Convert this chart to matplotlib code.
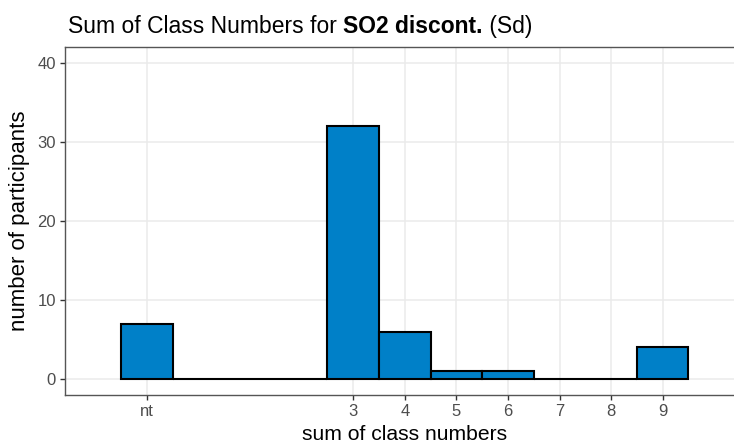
import matplotlib
matplotlib.use("Agg")
import matplotlib.pyplot as plt

plt.rcParams['font.family'] = ['Liberation Sans', 'DejaVu Sans']

# sum of class numbers (nt = not tested, placed left of 0)
positions = [-1, 0, 1, 2, 3, 4, 5, 6, 7, 8, 9]
counts = [7, 0, 0, 0, 32, 6, 1, 1, 0, 0, 4]
tick_pos = [-1, 3, 4, 5, 6, 7, 8, 9]
tick_labels = ["nt", "3", "4", "5", "6", "7", "8", "9"]
y_ticks = [0, 10, 20, 30, 40]

W, H = 734, 443
fig = plt.figure(figsize=(W / 100, H / 100), dpi=100)

# panel runs past the right edge in the original (cropped)
xlim = (-2.59, 10.56)
ylim = (-2, 42)
px_per_x = 51.57
left, top, bottom = 65, 47.2, 394.8
width = (xlim[1] - xlim[0]) * px_per_x
ax = fig.add_axes([left / W, 1 - bottom / H, width / W, (bottom - top) / H])

ax.bar(positions, counts, width=1.0, color="#0080C8", edgecolor="black",
       linewidth=1.5, zorder=3)

ax.set_xlim(*xlim)
ax.set_ylim(*ylim)
ax.set_xticks(tick_pos)
ax.set_xticklabels(tick_labels)
ax.set_yticks(y_ticks)

ax.grid(True, color="#EBEBEB", linewidth=1.1, zorder=0)
ax.set_axisbelow(True)
for s in ax.spines.values():
    s.set_color("#555555")
    s.set_linewidth(1.0)
ax.tick_params(colors="#333333", labelcolor="#4D4D4D", labelsize=12,
               length=3.5, width=1.0, pad=3)

ax.set_xlabel("sum of class numbers", fontsize=15.2, va="baseline")
ax.xaxis.set_label_coords(0.5, (bottom - 440) / (bottom - top))
ax.set_ylabel("number of participants", fontsize=16)
ax.yaxis.set_label_coords((30 - left) / width, 0.5)

# title with bold middle part
ty = 1 - 33 / H
t1 = fig.text(68 / W, ty, "Sum of Class Numbers for ", fontsize=16.5,
              va="baseline")
fig.canvas.draw()
r = fig.canvas.get_renderer()
bb1 = t1.get_window_extent(r)
t2 = fig.text(bb1.x1 / W, ty, "SO2 discont.", fontsize=16.5,
              fontweight="bold", va="baseline")
fig.canvas.draw()
bb2 = t2.get_window_extent(r)
fig.text(bb2.x1 / W, ty, " (Sd)", fontsize=16.5, va="baseline")

fig.savefig("out.png", dpi=100)
